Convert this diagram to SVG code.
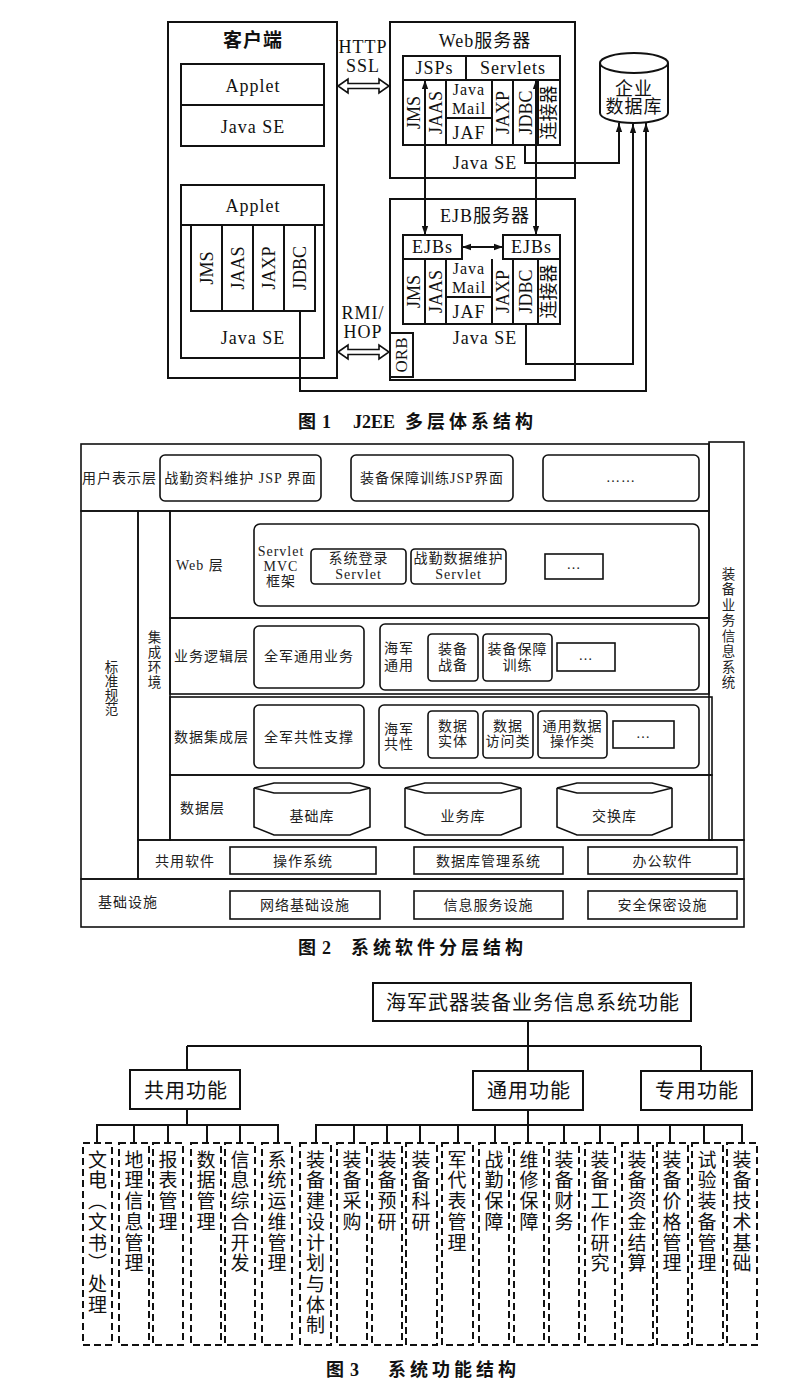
<svg xmlns="http://www.w3.org/2000/svg" width="802" height="1380" viewBox="0 0 802 1380">
<style>
.bg{fill:#fff}
.bx{fill:none;stroke:#111;stroke-width:2}
.bw{fill:#fff;stroke:#111;stroke-width:2}
.b2{fill:none;stroke:#111;stroke-width:1.6}
.ln{fill:none;stroke:#111;stroke-width:2}
.ar{fill:none;stroke:#111;stroke-width:2;marker-end:url(#ah)}
.ar2{fill:none;stroke:#111;stroke-width:2;marker-start:url(#ah);marker-end:url(#ah)}
.dh{fill:#fff;stroke:#111;stroke-width:1.6}
.ds{fill:none;stroke:#111;stroke-width:2;stroke-dasharray:7 4}
text{font-family:"Liberation Serif","Noto Sans CJK SC",serif;fill:#111}
.t18{font-size:18px;text-anchor:middle;letter-spacing:1px}
.t16{font-size:16px;text-anchor:middle;letter-spacing:1px}
.tb{font-size:19px;font-weight:bold;text-anchor:middle;letter-spacing:1px}
.vt{font-size:18px;text-anchor:middle;dominant-baseline:central}
.c14{font-size:14px;text-anchor:middle;letter-spacing:1px;fill:#222}
.l14{font-size:14px;letter-spacing:1px;fill:#222}
.v13{font-size:13.5px;writing-mode:vertical-rl;text-anchor:middle;fill:#222}
.c20{font-family:"Noto Sans CJK SC",sans-serif;font-size:20px;text-anchor:middle;letter-spacing:1px}
.v19{font-family:"Noto Sans CJK SC",sans-serif;font-size:19px;writing-mode:vertical-rl;letter-spacing:1.7px}
.cap{font-family:"Noto Sans CJK SC",sans-serif;font-size:18px;font-weight:bold;letter-spacing:4px}
.capn{font-family:"Liberation Serif",serif;font-size:18px;font-weight:bold}
</style>
<defs>
<marker id="ah" viewBox="0 0 10 10" refX="10" refY="5" markerWidth="9" markerHeight="9" markerUnits="userSpaceOnUse" orient="auto-start-reverse"><path d="M0,1.5 L10,5 L0,8.5 Z" fill="#111"/></marker>
</defs>
<rect class="bg" x="0" y="0" width="802" height="1380"/>

<!-- ============ Figure 1 ============ -->
<g id="fig1">
<g id="client">
<rect class="bx" x="168" y="22" width="169" height="356"/>
<text class="tb" x="253" y="47">客户端</text>
</g>
<g id="client-applet">
<rect class="bx" x="181" y="64" width="143" height="82"/>
<line class="ln" x1="181" y1="105" x2="324" y2="105"/>
<text class="t18" x="253" y="92">Applet</text>
<text class="t18" x="253" y="133">Java SE</text>
</g>
<g id="client-app">
<rect class="bx" x="181" y="185" width="143" height="173"/>
<line class="ln" x1="181" y1="225" x2="324" y2="225"/>
<text class="t18" x="253" y="212">Applet</text>
<path class="ln" d="M191,225 V311 H315 V225 M222,225 V311 M253,225 V311 M284,225 V311"/>
<text class="vt" transform="translate(206.5,268) rotate(-90)">JMS</text>
<text class="vt" transform="translate(237.5,268) rotate(-90)">JAAS</text>
<text class="vt" transform="translate(268.5,268) rotate(-90)">JAXP</text>
<text class="vt" transform="translate(299.5,268) rotate(-90)">JDBC</text>
<text class="t18" x="253" y="344">Java SE</text>
</g>
<g id="web-server">
<rect class="bx" x="390" y="22" width="185" height="156"/>
<text class="t18" x="485" y="47">Web服务器</text>
<rect class="bx" x="403" y="56" width="157" height="24"/>
<line class="ln" x1="466" y1="56" x2="466" y2="80"/>
<text class="t18" x="434.5" y="74">JSPs</text>
<text class="t18" x="513" y="74">Servlets</text>
<path class="ln" d="M403,80 V145 H560 V80 M425,80 V145 M446,80 V145 M492,80 V145 M513,80 V145 M538,80 V145 M446,118 H492"/>
<text class="vt" transform="translate(414,112.5) rotate(-90)">JMS</text>
<text class="vt" transform="translate(435.5,112.5) rotate(-90)">JAAS</text>
<text class="t16" x="469" y="95">Java</text>
<text class="t16" x="469" y="114">Mail</text>
<text class="t18" x="469" y="139">JAF</text>
<text class="vt" transform="translate(502.5,112.5) rotate(-90)">JAXP</text>
<text class="vt" transform="translate(525.5,112.5) rotate(-90)">JDBC</text>
<text class="vt" transform="translate(549,112.5) rotate(-90)">连接器</text>
<text class="t18" x="485" y="169">Java SE</text>
</g>
<g id="ejb-server">
<rect class="bx" x="390" y="199" width="185" height="181"/>
<text class="t18" x="485" y="222">EJB服务器</text>
<rect class="bx" x="403" y="235" width="59" height="24"/>
<text class="t18" x="432.5" y="253">EJBs</text>
<rect class="bx" x="503" y="235" width="57" height="24"/>
<text class="t18" x="531.5" y="253">EJBs</text>
<path class="ln" d="M403,259 V324 H560 V259 M425,259 V324 M446,259 V324 M492,259 V324 M513,259 V324 M538,259 V324 M446,297 H492"/>
<text class="vt" transform="translate(414,291.5) rotate(-90)">JMS</text>
<text class="vt" transform="translate(435.5,291.5) rotate(-90)">JAAS</text>
<text class="t16" x="469" y="274">Java</text>
<text class="t16" x="469" y="293">Mail</text>
<text class="t18" x="469" y="318">JAF</text>
<text class="vt" transform="translate(502.5,291.5) rotate(-90)">JAXP</text>
<text class="vt" transform="translate(525.5,291.5) rotate(-90)">JDBC</text>
<text class="vt" transform="translate(549,291.5) rotate(-90)">连接器</text>
<text class="t18" x="485" y="344">Java SE</text>
<rect class="bx" x="390" y="333" width="23" height="44"/>
<text class="vt" style="font-size:17px" transform="translate(401.5,355) rotate(-90)">ORB</text>
</g>
<g id="database">
<path class="bw" d="M600,63 V113 A34,10 0 0 0 668,113 V63 A34,10 0 0 0 600,63 A34,10 0 0 0 668,63"/>
<text class="t18" x="634" y="95">企业</text>
<text class="t18" x="634" y="113">数据库</text>
</g>
<g id="fig1-connectors">
<polygon class="dh" points="338,86 348,79 348,83.5 379,83.5 379,79 389,86 379,93 379,88.5 348,88.5 348,93"/>
<text class="t18" x="363" y="53">HTTP</text>
<text class="t18" x="363" y="72">SSL</text>
<polygon class="dh" points="338,352 348,345 348,349.5 379,349.5 379,345 389,352 379,359 379,354.5 348,354.5 348,359"/>
<text class="t18" x="363" y="319">RMI/</text>
<text class="t18" x="363" y="338">HOP</text>
<line class="ar2" x1="425" y1="80" x2="425" y2="235"/>
<line class="ar2" x1="536" y1="80" x2="536" y2="235"/>
<line class="ar2" x1="462" y1="247" x2="503" y2="247"/>
<path class="ar" d="M525,145 V163 H619 V123"/>
<path class="ar" d="M526,324 V364 H633 V124"/>
<path class="ar" d="M300,311 V391 H646 V123"/>
</g>
<text id="caption1" x="298" y="428"><tspan class="cap">图</tspan><tspan class="capn" x="322">1</tspan><tspan class="capn" x="353">J2EE</tspan><tspan class="cap" x="405">多层体系结构</tspan></text>
</g>

<!-- ============ Figure 2 ============ -->
<g id="fig2">
<g id="layer-frame">
<rect class="b2" x="81" y="444" width="628" height="67"/>
<rect class="b2" x="709" y="442" width="35" height="398"/>
<rect class="b2" x="81" y="511" width="57" height="368"/>
<rect class="b2" x="138" y="511" width="32" height="329"/>
<rect class="b2" x="170" y="511" width="539" height="107"/>
<rect class="b2" x="170" y="618" width="539" height="76"/>
<rect class="b2" x="170" y="697" width="542" height="78"/>
<rect class="b2" x="170" y="775" width="542" height="65"/>
<rect class="b2" x="138" y="840" width="606" height="39"/>
<rect class="b2" x="81" y="879" width="663" height="48"/>
</g>
<g id="side-labels">
<text class="v13" x="110" y="688" style="letter-spacing:0.5px">标准规范</text>
<text class="v13" x="153" y="660" style="letter-spacing:1.5px">集成环境</text>
<text class="v13" x="727" y="629" style="letter-spacing:2px">装备业务信息系统</text>
</g>
<g id="user-layer">
<text class="l14" x="82" y="483">用户表示层</text>
<rect class="b2" x="160" y="455" width="161" height="46" rx="5"/>
<text class="c14" x="240.5" y="483">战勤资料维护 JSP 界面</text>
<rect class="b2" x="351" y="455" width="162" height="46" rx="5"/>
<text class="c14" x="432" y="483">装备保障训练JSP界面</text>
<rect class="b2" x="543" y="455" width="156" height="46" rx="5"/>
<text class="c14" x="621" y="482">……</text>
</g>
<g id="web-layer">
<text class="l14" x="176" y="570">Web 层</text>
<rect class="b2" x="254" y="524" width="445" height="82" rx="6"/>
<text class="c14" x="281" y="556">Servlet</text>
<text class="c14" x="281" y="571">MVC</text>
<text class="c14" x="281" y="586">框架</text>
<rect class="b2" x="311" y="549" width="95" height="35" rx="4"/>
<text class="c14" x="358.5" y="563">系统登录</text>
<text class="c14" x="358.5" y="579">Servlet</text>
<rect class="b2" x="411" y="549" width="95" height="35" rx="4"/>
<text class="c14" x="458.5" y="563">战勤数据维护</text>
<text class="c14" x="458.5" y="579">Servlet</text>
<rect class="b2" x="545" y="554" width="58" height="25"/>
<text class="c14" x="574" y="569">…</text>
</g>
<g id="business-layer">
<text class="l14" x="174" y="661">业务逻辑层</text>
<rect class="b2" x="254" y="626" width="110" height="62" rx="5"/>
<text class="c14" x="309" y="661">全军通用业务</text>
<rect class="b2" x="380" y="624" width="319" height="66" rx="5"/>
<text class="l14" x="384" y="653">海军</text>
<text class="l14" x="384" y="670">通用</text>
<rect class="b2" x="428" y="634" width="50" height="47" rx="4"/>
<text class="c14" x="453" y="654">装备</text>
<text class="c14" x="453" y="670">战备</text>
<rect class="b2" x="483" y="634" width="69" height="47" rx="4"/>
<text class="c14" x="517.5" y="654">装备保障</text>
<text class="c14" x="517.5" y="670">训练</text>
<rect class="b2" x="557" y="643" width="58" height="28"/>
<text class="c14" x="586" y="660">…</text>
</g>
<g id="data-integration-layer">
<text class="l14" x="174" y="742">数据集成层</text>
<rect class="b2" x="254" y="705" width="110" height="63" rx="5"/>
<text class="c14" x="309" y="742">全军共性支撑</text>
<rect class="b2" x="379" y="705" width="320" height="63" rx="5"/>
<text class="l14" x="384" y="734">海军</text>
<text class="l14" x="384" y="749">共性</text>
<rect class="b2" x="428" y="711" width="50" height="47" rx="4"/>
<text class="c14" x="453" y="731">数据</text>
<text class="c14" x="453" y="746">实体</text>
<rect class="b2" x="483" y="711" width="50" height="47" rx="4"/>
<text class="c14" x="508" y="731">数据</text>
<text class="c14" x="508" y="746">访问类</text>
<rect class="b2" x="538" y="711" width="69" height="47" rx="4"/>
<text class="c14" x="572.5" y="731">通用数据</text>
<text class="c14" x="572.5" y="746">操作类</text>
<rect class="b2" x="613" y="721" width="61" height="27"/>
<text class="c14" x="643.5" y="738">…</text>
</g>
<g id="data-layer">
<text class="l14" x="180" y="813">数据层</text>
<path class="b2" d="M254,788 L274,783 H350 L370,788 L350,793 H274 Z M254,788 V827 L274,835 H350 L370,827 V788"/>
<text class="c14" x="312" y="821">基础库</text>
<path class="b2" d="M405,788 L425,783 H501 L521,788 L501,793 H425 Z M405,788 V827 L425,835 H501 L521,827 V788"/>
<text class="c14" x="463" y="821">业务库</text>
<path class="b2" d="M557,788 L577,783 H652 L672,788 L652,793 H577 Z M557,788 V827 L577,835 H652 L672,827 V788"/>
<text class="c14" x="614.5" y="821">交换库</text>
</g>
<g id="shared-software">
<text class="l14" x="155" y="866">共用软件</text>
<rect class="b2" x="230" y="847" width="146" height="27"/>
<text class="c14" x="303" y="866">操作系统</text>
<rect class="b2" x="414" y="847" width="149" height="27"/>
<text class="c14" x="488.5" y="866">数据库管理系统</text>
<rect class="b2" x="588" y="847" width="149" height="27"/>
<text class="c14" x="662.5" y="866">办公软件</text>
</g>
<g id="infrastructure">
<text class="l14" x="98" y="907">基础设施</text>
<rect class="b2" x="230" y="891" width="150" height="28"/>
<text class="c14" x="305" y="910">网络基础设施</text>
<rect class="b2" x="414" y="891" width="149" height="28"/>
<text class="c14" x="488.5" y="910">信息服务设施</text>
<rect class="b2" x="588" y="891" width="149" height="28"/>
<text class="c14" x="662.5" y="910">安全保密设施</text>
</g>
<text id="caption2" x="298" y="954"><tspan class="cap">图</tspan><tspan class="capn" x="322">2</tspan><tspan class="cap" x="351">系统软件分层结构</tspan></text>
</g>

<!-- ============ Figure 3 ============ -->
<g id="fig3">
<g id="root-node">
<rect class="bx" x="373" y="983" width="318" height="38"/>
<text class="c20" x="533" y="1010">海军武器装备业务信息系统功能</text>
</g>
<g id="node-common">
<rect class="bx" x="130" y="1070" width="110" height="39"/>
<text class="c20" x="186" y="1098">共用功能</text>
</g>
<g id="node-general">
<rect class="bx" x="473" y="1071" width="110" height="39"/>
<text class="c20" x="529" y="1098">通用功能</text>
</g>
<g id="node-special">
<rect class="bx" x="641" y="1071" width="111" height="39"/>
<text class="c20" x="697" y="1098">专用功能</text>
</g>
<g id="fig3-connectors">
<path class="ln" d="M528,1021 V1046 M187,1046 H701 M187,1046 V1070 M528,1046 V1071 M701,1046 V1071"/>
<path class="ln" d="M187,1109 V1125 M96,1125 H279 M97,1125 V1143 M134,1125 V1143 M168,1125 V1143 M207,1125 V1143 M240,1125 V1143 M278,1125 V1143"/>
<path class="ln" d="M528,1110 V1125 M315,1125 H743 M316,1125 V1143 M354,1125 V1143 M387,1125 V1143 M420,1125 V1143 M458,1125 V1143 M495,1125 V1143 M528,1125 V1143 M564,1125 V1143 M600,1125 V1143 M638,1125 V1143 M670,1125 V1143 M704,1125 V1143 M742,1125 V1143"/>
</g>
<g id="leaf-1"><rect class="ds" x="83" y="1143" width="29" height="202"/><text class="v19" x="97.5" y="1150">文电（文书）处理</text></g>
<g id="leaf-2"><rect class="ds" x="119" y="1143" width="30" height="202"/><text class="v19" x="134" y="1150">地理信息管理</text></g>
<g id="leaf-3"><rect class="ds" x="153" y="1143" width="30" height="202"/><text class="v19" x="168" y="1150">报表管理</text></g>
<g id="leaf-4"><rect class="ds" x="191" y="1143" width="30" height="202"/><text class="v19" x="206" y="1150">数据管理</text></g>
<g id="leaf-5"><rect class="ds" x="225" y="1143" width="30" height="202"/><text class="v19" x="240" y="1150">信息综合开发</text></g>
<g id="leaf-6"><rect class="ds" x="262" y="1143" width="30" height="202"/><text class="v19" x="277" y="1150">系统运维管理</text></g>
<g id="leaf-7"><rect class="ds" x="300" y="1143" width="31" height="202"/><text class="v19" x="315.5" y="1150">装备建设计划与体制</text></g>
<g id="leaf-8"><rect class="ds" x="337" y="1143" width="30" height="202"/><text class="v19" x="352" y="1150">装备采购</text></g>
<g id="leaf-9"><rect class="ds" x="372" y="1143" width="30" height="202"/><text class="v19" x="387" y="1150">装备预研</text></g>
<g id="leaf-10"><rect class="ds" x="406" y="1143" width="31" height="202"/><text class="v19" x="421" y="1150">装备科研</text></g>
<g id="leaf-11"><rect class="ds" x="442" y="1143" width="31" height="202"/><text class="v19" x="457" y="1150">军代表管理</text></g>
<g id="leaf-12"><rect class="ds" x="479" y="1143" width="30" height="202"/><text class="v19" x="494" y="1150">战勤保障</text></g>
<g id="leaf-13"><rect class="ds" x="514" y="1143" width="30" height="202"/><text class="v19" x="529" y="1150">维修保障</text></g>
<g id="leaf-14"><rect class="ds" x="549" y="1143" width="30" height="202"/><text class="v19" x="564" y="1150">装备财务</text></g>
<g id="leaf-15"><rect class="ds" x="585" y="1143" width="30" height="202"/><text class="v19" x="600" y="1150">装备工作研究</text></g>
<g id="leaf-16"><rect class="ds" x="622" y="1143" width="31" height="202"/><text class="v19" x="637" y="1150">装备资金结算</text></g>
<g id="leaf-17"><rect class="ds" x="657" y="1143" width="31" height="202"/><text class="v19" x="672" y="1150">装备价格管理</text></g>
<g id="leaf-18"><rect class="ds" x="692" y="1143" width="31" height="202"/><text class="v19" x="707" y="1150">试验装备管理</text></g>
<g id="leaf-19"><rect class="ds" x="727" y="1143" width="30" height="202"/><text class="v19" x="742" y="1150">装备技术基础</text></g>
<text id="caption3" x="326" y="1376"><tspan class="cap">图</tspan><tspan class="capn" x="350">3</tspan><tspan class="cap" x="388">系统功能结构</tspan></text>
</g>
</svg>
